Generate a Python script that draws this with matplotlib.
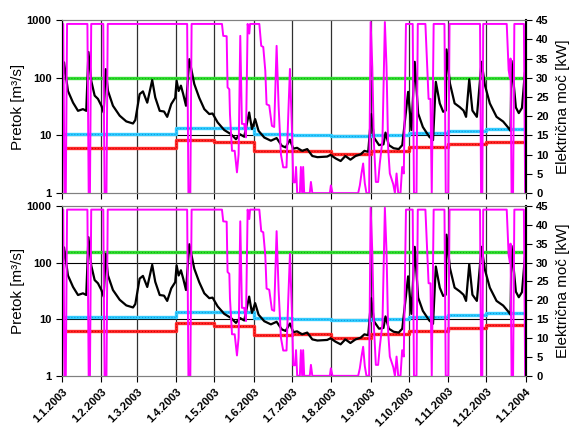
import numpy as np
import pandas as pd
import matplotlib
matplotlib.use("Agg")
import matplotlib.pyplot as plt

plt.rcParams["font.family"] = ["Liberation Sans", "DejaVu Sans"]

start = pd.Timestamp("2003-01-01")

# daily flow [m3/s], (day of year offset, value)
flow_pts = [
    (0, 150), (0.7, 95), (1.6, 185), (4.7, 59), (8.7, 37), (12.6, 26.7), (16.5, 28.6),
    (19.1, 26.7), (20.8, 280), (23, 89), (25.7, 49), (28.3, 43), (31, 32.7), (32.8, 25),
    (34.4, 141), (36.2, 59), (40.1, 32.7), (45.4, 22), (50.6, 17.5), (55.9, 16.1),
    (57.7, 18.5), (61.1, 52), (63.7, 58), (67.1, 37), (71, 91), (73.4, 45.6), (76.9, 26.7),
    (80.3, 26), (82.8, 21), (86, 35), (89.1, 45), (90.2, 89), (91.8, 59), (93.6, 73),
    (95.4, 52), (97.6, 32.7), (100.2, 210), (104.1, 78), (108, 45), (112, 28.6),
    (115.9, 23.5), (118.5, 24), (122.5, 16.8), (127.7, 12.4), (133, 10.5), (136.9, 8.6),
    (140, 10.5), (143.4, 9.5), (147.3, 25), (149.5, 12.9), (152, 19.2), (154.7, 12),
    (159.2, 9.2), (164.4, 8.1), (168.9, 9), (173, 6.6), (176, 6.2), (179.4, 8.4),
    (182, 5.9), (185, 6.1), (189, 5.4), (193, 5.8), (197, 4.4), (201, 4.2), (208.7, 4.3),
    (211.3, 4.6), (215.3, 4.0), (219.3, 3.6), (223, 4.4), (227, 3.8), (231, 4.4),
    (235, 4.7), (238, 5.4), (241, 5.2), (243.4, 23.5), (245.5, 9.2), (249.5, 6.8),
    (253, 7), (254.6, 11.2), (257.2, 6.8), (261, 6), (265, 5.8), (267.8, 6.8),
    (272.4, 57), (275, 12.4), (277.6, 189), (280.3, 24), (284, 14), (289, 9.5), (292, 8.3),
    (294.2, 85), (297.3, 36), (300, 25.7), (302, 27), (302.6, 310), (305.3, 80), (309, 36),
    (313, 31), (316, 27), (318, 21), (320.5, 94), (323, 27), (326.5, 21), (330.2, 189),
    (332.8, 75), (336.7, 36), (342, 21), (347.2, 17.4), (351, 13.8), (353, 12),
    (353.8, 196), (357.2, 30.6), (359.5, 24.4), (362, 30), (364.3, 124), (365, 126),
]

# electric power [kW]
power_pts = [
    (0, 0), (1, 44), (2, 0), (3, 0), (4, 44), (20, 44), (21, 0), (22, 0), (23, 44),
    (32.5, 44), (33.5, 0), (35, 0), (36, 44), (98.5, 44), (99.5, 0), (101, 0), (102, 44),
    (125.9, 44), (126.9, 40.9), (129.6, 40.8), (130.3, 27.5), (131.7, 27), (132.2, 20.5),
    (133.8, 11), (135.9, 11), (137.7, 5.4), (139, 10.1), (140.3, 40.9), (141.6, 18),
    (143.4, 18), (144.8, 14.5), (146.1, 44), (147.4, 41.5), (148, 44), (155.3, 44),
    (156.8, 38.3), (158.4, 38), (160, 31.8), (161, 23.1), (163.1, 22.8), (165.2, 17.5),
    (167, 17.2), (168.9, 38.3), (170.5, 22.5), (172.3, 10.1), (174.1, 6.7), (176.7, 6.7),
    (178.1, 20.5), (179.4, 32.3), (181, 16.2), (182, 2.8), (183.4, 2.8), (184.2, 6.8),
    (185.1, 0), (187.2, 0), (188, 6.8), (189, 0), (189.8, 6.8), (190.6, 0), (195, 0),
    (195.9, 2.9), (197, 0), (210.8, 0), (211.6, 2), (212.9, 0), (233.1, 0), (234.4, 2),
    (235.7, 5.1), (237, 7.7), (238.3, 2.6), (239.6, 0), (241.7, 0), (242.9, 44.5),
    (244.2, 32.9), (245.5, 12.9), (247, 2.9), (248.8, 2.9), (250.1, 7.7), (252.2, 13.8),
    (254.1, 44.5), (255.4, 32.9), (256.7, 11.6), (258, 5.1), (260.7, 2.3), (262, 0),
    (263.3, 5.1), (264.6, 0), (266.4, 0), (267.7, 6.8), (269, 5.1), (270.7, 44), (276, 44),
    (277, 0), (279, 0), (280, 44), (286, 44), (288.5, 24.5), (290, 24.5), (291, 0),
    (292.5, 44), (301, 44), (302, 0), (304, 0), (305, 44), (329, 44), (329.8, 0),
    (330.8, 0), (331.5, 44), (350, 44), (351.5, 32), (352.5, 30), (353, 35), (353.8, 0),
    (355, 0), (356, 44), (363.5, 44), (364.5, 0), (365, 0),
]

# monthly step values [m3/s]
cyan_month = [10.8, 10.8, 10.8, 13.6, 13.2, 10.4, 10.1, 9.6, 10.1, 11.1, 11.9, 12.7]
red_month = [6.1, 6.1, 6.1, 8.5, 7.6, 5.35, 5.4, 4.7, 5.4, 6.2, 7.0, 7.8]
green_level = [100, 155]  # top, bottom panel

flow_d, flow_v = zip(*flow_pts)
pw_d, pw_v = zip(*power_pts)
flow_t = start + pd.to_timedelta(flow_d, unit="D")
pw_t = start + pd.to_timedelta(pw_d, unit="D")
months = pd.date_range("2003-01-01", "2004-01-01", freq="MS")
t0, t1 = months[0], months[-1]

fig = plt.figure(figsize=(5.74, 4.32), dpi=100)
rects = [[0.108, 0.553, 0.808, 0.4005], [0.108, 0.130, 0.808, 0.3935]]

for k, rect in enumerate(rects):
    ax = fig.add_axes(rect)
    ax.set_yscale("log")
    ax.set_ylim(1, 1000)
    ax.set_xlim(t0, t1)
    for y in [10, 100]:
        ax.axhline(y, color="black", lw=0.8, zorder=1)
    for m in months:
        ax.axvline(m, color="#303030", lw=0.9, zorder=1)
    ax.plot([t0, t1], [green_level[k]] * 2, color="#33dd33", lw=2.4, zorder=2)
    ax.plot([t0, t1], [green_level[k]] * 2, color="#11aa11", lw=0.8, ls=":", zorder=2)
    cy = cyan_month + [cyan_month[-1]]
    rd = red_month + [red_month[-1]]
    ax.plot(months, cy, drawstyle="steps-post", color="#33ccff", lw=2.4, zorder=2)
    ax.plot(months, cy, drawstyle="steps-post", color="#1199dd", lw=0.8, ls=":", zorder=2)
    ax.plot(months, rd, drawstyle="steps-post", color="#ff2a2a", lw=2.4, zorder=2)
    ax.plot(months, rd, drawstyle="steps-post", color="#cc0000", lw=0.8, ls=":", zorder=2)
    ax.plot(flow_t, flow_v, color="black", lw=1.6, zorder=3)

    ax.set_yticks([1, 10, 100, 1000])
    ax.set_yticklabels(["1", "10", "100", "1000"], fontsize=8, fontweight="bold")
    ax.yaxis.set_minor_locator(matplotlib.ticker.NullLocator())
    ax.set_ylabel("Pretok [m³/s]", fontsize=11)
    ax.yaxis.set_label_coords(-0.08, 0.5)
    ax.set_xticks(months)
    if k == 1:
        ax.set_xticklabels([f"{m.day}.{m.month}.{m.year}" for m in months], rotation=45,
                           ha="right", rotation_mode="anchor", fontsize=8, fontweight="bold")
    else:
        ax.set_xticklabels([])
    ax.tick_params(direction="out", length=4, width=0.8)
    for s in ["top", "bottom"]:
        ax.spines[s].set_color("#808080")

    ax2 = ax.twinx()
    ax2.plot(pw_t, pw_v, color="#ff00ff", lw=1.4)
    ax2.set_ylim(0, 45)
    ax2.set_yticks(np.arange(0, 46, 5))
    ax2.set_yticklabels([str(v) for v in range(0, 46, 5)], fontsize=8, fontweight="bold")
    ax2.set_ylabel("Električna moč [kW]", fontsize=11)
    ax2.yaxis.set_label_coords(1.065, 0.5)
    ax2.tick_params(direction="out", length=4, width=0.8)
    ax2.spines["right"].set_linewidth(1.5)
    for s in ["top", "bottom"]:
        ax2.spines[s].set_color("#808080")

fig.savefig("out.png", dpi=100)
